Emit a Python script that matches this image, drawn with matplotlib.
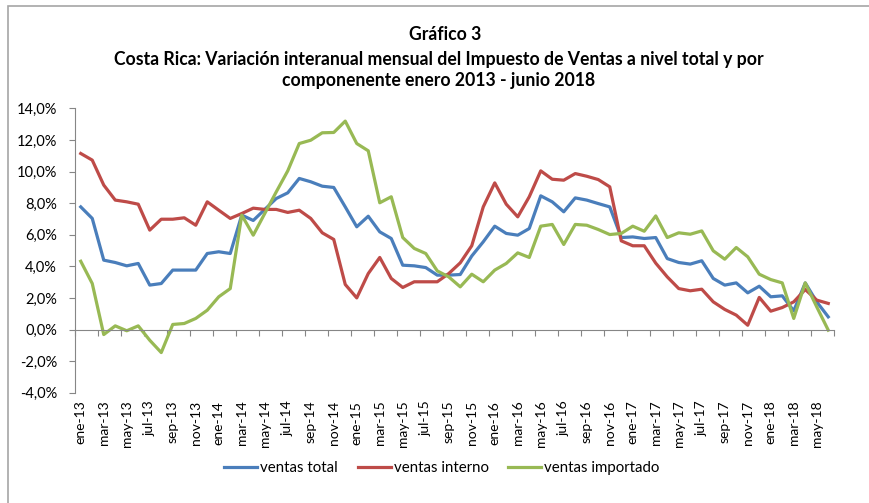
import matplotlib
matplotlib.use('Agg')
import matplotlib.pyplot as plt
import numpy as np
from matplotlib.patches import Rectangle

# monthly data ene-13 .. jun-18 (% interannual)
meses = ['ene', 'feb', 'mar', 'abr', 'may', 'jun',
         'jul', 'ago', 'sep', 'oct', 'nov', 'dic']
anios = ['13', '14', '15', '16', '17', '18']
etiquetas = [f'{m}-{a}' for a in anios for m in meses][:66]

ventas_total = [7.76, 7.03, 4.39, 4.24, 4.03, 4.18, 2.81, 2.91, 3.76, 3.76,
                3.76, 4.81, 4.92, 4.81, 7.24, 6.90, 7.60, 8.29, 8.65, 9.56,
                9.35, 9.07, 8.99, 7.76, 6.50, 7.17, 6.18, 5.76, 4.07, 4.03,
                3.92, 3.44, 3.44, 3.48, 4.65, 5.55, 6.54, 6.08, 5.97, 6.39,
                8.46, 8.08, 7.45, 8.33, 8.19, 7.97, 7.76, 5.82, 5.86, 5.76,
                5.82, 4.49, 4.24, 4.14, 4.35, 3.23, 2.81, 2.95, 2.32, 2.74,
                2.07, 2.13, 1.18, 2.95, 1.75, 0.80]
ventas_interno = [11.14, 10.72, 9.14, 8.19, 8.08, 7.93, 6.29, 6.98, 6.98, 7.07,
                  6.60, 8.08, 7.55, 7.03, 7.34, 7.68, 7.60, 7.60, 7.41, 7.55,
                  7.03, 6.12, 5.70, 2.85, 2.00, 3.54, 4.56, 3.23, 2.66, 3.02,
                  3.02, 3.02, 3.54, 4.22, 5.30, 7.76, 9.28, 7.93, 7.13, 8.40,
                  10.04, 9.51, 9.45, 9.87, 9.70, 9.49, 9.03, 5.61, 5.30, 5.30,
                  4.20, 3.33, 2.59, 2.45, 2.55, 1.75, 1.27, 0.91, 0.27, 2.03,
                  1.16, 1.39, 1.75, 2.53, 1.86, 1.65]
ventas_importado = [4.32, 2.91, -0.32, 0.23, -0.08, 0.23, -0.68, -1.46, 0.32, 0.38,
                    0.70, 1.22, 2.07, 2.59, 7.24, 5.97, 7.34, 8.71, 10.04, 11.77,
                    11.98, 12.45, 12.47, 13.19, 11.77, 11.31, 8.02, 8.40, 5.82, 5.13,
                    4.81, 3.71, 3.33, 2.70, 3.50, 3.02, 3.76, 4.18, 4.85, 4.56,
                    6.54, 6.65, 5.38, 6.65, 6.60, 6.33, 6.01, 6.08, 6.54, 6.22,
                    7.19, 5.82, 6.12, 6.03, 6.24, 4.98, 4.45, 5.19, 4.60, 3.50,
                    3.16, 2.95, 0.70, 2.95, 1.43, -0.04]

fuente = 'Lato'
gris = '#868686'
plt.rcParams['font.family'] = fuente

fig = plt.figure(figsize=(8.7, 5.03), dpi=100)
fig.patches.append(Rectangle((8 / 870, -0.01), 1.0, 1 - 6 / 503 + 0.01,
                             transform=fig.transFigure, fill=False,
                             edgecolor='#a6a6a6', linewidth=1.2))

ax = fig.add_axes([75 / 870, 1 - 392.7 / 503, (834 - 75) / 870, 284.4 / 503])
x = np.arange(len(etiquetas))
lw = 2.3
ax.plot(x, ventas_total, color='#4a7ebb', lw=lw, label='ventas total',
        solid_joinstyle='round')
ax.plot(x, ventas_interno, color='#be4b48', lw=lw, label='ventas interno',
        solid_joinstyle='round')
ax.plot(x, ventas_importado, color='#98b954', lw=lw, label='ventas importado',
        solid_joinstyle='round')

ax.set_xlim(-0.5, len(x) - 0.5)
ax.set_ylim(-4, 14)
ax.set_yticks(np.arange(-4, 15, 2))
ax.set_yticklabels([f'{v:.1f}%'.replace('.', ',') for v in np.arange(-4, 15, 2)],
                   fontsize=10.5)
ax.tick_params(axis='y', direction='out', length=4, color=gris, pad=9)

for s in ['top', 'right']:
    ax.spines[s].set_visible(False)
ax.spines['left'].set_color(gris)
ax.spines['bottom'].set_color(gris)
ax.spines['bottom'].set_position(('data', 0))
ax.set_xticks(np.arange(-0.5, len(x), 2))
ax.set_xticklabels([])
ax.tick_params(axis='x', direction='out', length=4, color=gris)

for i in range(0, len(x), 2):
    ax.text(i, -0.028, etiquetas[i], transform=ax.get_xaxis_transform(),
            rotation=90, ha='center', va='top', fontsize=10)

fig.text(445 / 870, 1 - 35 / 503, 'Gráfico 3', ha='center', va='center',
         fontsize=12.7, fontweight='bold')
fig.text(439 / 870, 1 - 70 / 503,
         'Costa Rica: Variación interanual mensual del Impuesto de Ventas a nivel total y por\n'
         'componenente enero 2013 - junio 2018',
         ha='center', va='center', fontsize=12.7, fontweight='bold', linespacing=1.35)

fig.legend(loc='center', bbox_to_anchor=(442 / 870, 1 - 468 / 503), ncol=3,
           frameon=False, fontsize=10.8, handlelength=2.2, handletextpad=0.2,
           columnspacing=1.3)

fig.savefig('out.png', dpi=100)
